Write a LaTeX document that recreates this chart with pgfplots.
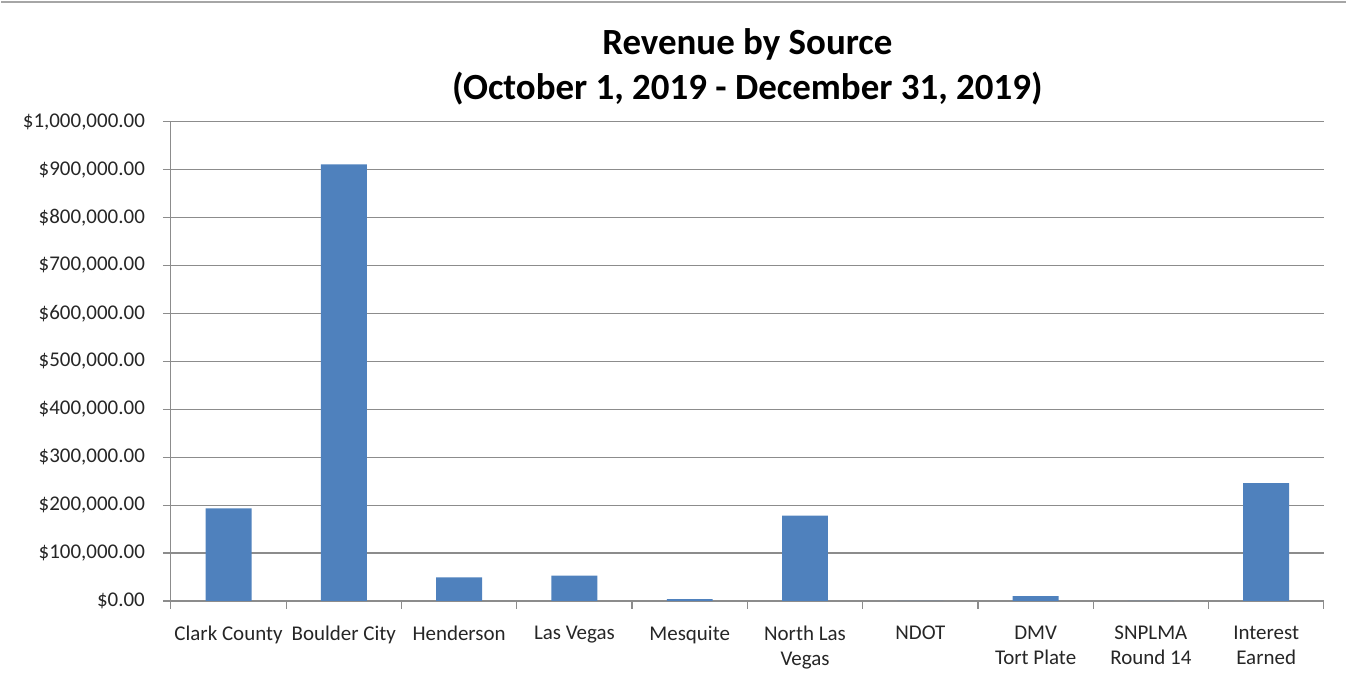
\documentclass[border=0pt]{standalone}
\usepackage{fontspec}
\setmainfont{Carlito}
\usepackage{pgfplots}
\pgfplotsset{compat=1.18}
\definecolor{barblue}{HTML}{4F81BD}
\definecolor{gridgray}{HTML}{8C8C8C}
\begin{document}
\begin{tikzpicture}
\begin{axis}[
  name=a,
  scale only axis,
  width=577.5pt, height=240pt,
  xmin=-0.5, xmax=9.5,
  ymin=0, ymax=1000000,
  ybar, bar width=23pt,
  axis x line*=bottom, axis y line*=left,
  axis line style={gridgray, line width=0.6pt},
  xtick={-0.5,0.5,...,9.5},
  x tick label as interval,
  xticklabels={Clark County,Boulder City,Henderson,Las Vegas,Mesquite,North Las\\Vegas,NDOT,DMV\\Tort Plate,SNPLMA\\Round 14,Interest\\Earned},
  x tick label style={align=center, font=\fontsize{10.5}{12.5}\selectfont, text=black!85, yshift=-5pt},
  ytick={0,100000,...,1000000},
  yticklabels={\$0.00,\$100{,}000.00,\$200{,}000.00,\$300{,}000.00,\$400{,}000.00,\$500{,}000.00,\$600{,}000.00,\$700{,}000.00,\$800{,}000.00,\$900{,}000.00,\$1{,}000{,}000.00},
  y tick label style={font=\fontsize{10.5}{12}\selectfont, text=black!85, xshift=-5.5pt},
  scaled y ticks=false,
  tick align=outside,
  major tick length=4pt,
  tick style={gridgray, line width=0.6pt},
  ymajorgrids,
  grid style={gridgray, line width=0.6pt},
  title={Revenue by Source\\(October 1, 2019 - December 31, 2019)},
  title style={at={(0.5,1)}, anchor=center, yshift=21.5pt, align=center, font=\bfseries\fontsize{18.5}{23}\selectfont},
]
\addplot[fill=barblue, draw=none] coordinates {
  (0,193000) (1,911000) (2,49000) (3,53000) (4,4000)
  (5,178000) (6,0) (7,10000) (8,0) (9,246000)
};
\end{axis}
\path ([shift={(-85pt,-44.5pt)}]a.south west) rectangle ++(673.5pt,345.5pt);
\draw[gray!70, line width=1.2pt] ([shift={(-85pt,300pt)}]a.south west) -- ++(673.5pt,0);
\end{tikzpicture}
\end{document}
